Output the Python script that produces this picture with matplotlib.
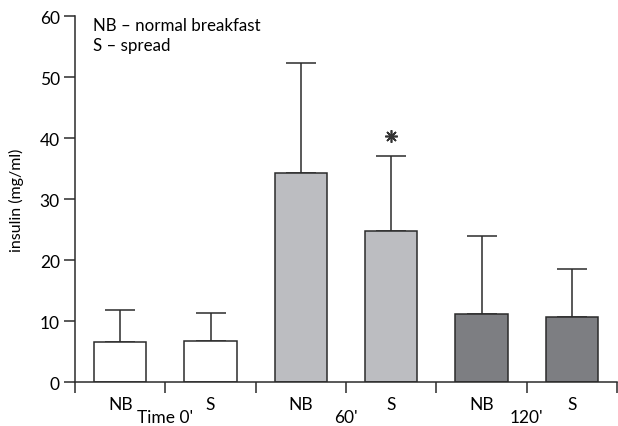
import matplotlib.pyplot as plt
import numpy as np

plt.rcParams['font.family'] = ['Lato', 'DejaVu Sans']

# insulin means and upper SD, per group
bar_labels = ['NB', 'S', 'NB', 'S', 'NB', 'S']
time_labels = ["Time 0'", "60'", "120'"]
insulin_mean = [6.5, 6.7, 34.3, 24.7, 11.1, 10.7]
insulin_sd = [5.35, 4.6, 18.0, 12.3, 12.8, 7.9]
bar_colors = ['white', 'white', '#bcbdc1', '#bcbdc1', '#7d7e82', '#7d7e82']
star_value = 40.4

edge = '#2b2b2b'

fig = plt.figure(figsize=(6.18, 4.27), dpi=100)
ax = fig.add_axes([0.1214, 0.103, 0.877, 0.857])

x = np.arange(len(insulin_mean))
ax.bar(x, insulin_mean, width=0.58, color=bar_colors, edgecolor=edge, linewidth=1.1, zorder=2)
ax.errorbar(x, insulin_mean, yerr=[np.zeros(len(insulin_sd)), insulin_sd], fmt='none',
            ecolor=edge, elinewidth=1.1, capsize=11, capthick=1.1, zorder=1)
# significance mark over S at 60'
ax.plot(x[3], star_value, marker=(8, 2, 0), ms=9, mew=1.2, color='#333333')

ax.set_xlim(-0.5, 5.5)
ax.set_ylim(0, 60)
ax.set_yticks(range(0, 61, 10))
ax.set_xticks(np.arange(-0.5, 6, 1))
ax.set_xticklabels([])
ax.tick_params(axis='y', length=8, width=1.1, color=edge, labelsize=12.5, pad=3)
ax.tick_params(axis='x', length=8, width=1.1, color=edge, direction='out')

for s in ['top', 'right']:
    ax.spines[s].set_visible(False)
for s in ['left', 'bottom']:
    ax.spines[s].set_linewidth(1.1)
    ax.spines[s].set_color(edge)

for xi, lab in zip(x, bar_labels):
    ax.text(xi, -3.6, lab, ha='center', va='center', fontsize=12.5, clip_on=False)
for gi, lab in enumerate(time_labels):
    ax.text(2 * gi + 0.5, -5.8, lab, ha='center', va='center', fontsize=12.5, clip_on=False)

ax.set_ylabel('insulin (mg/ml)', fontsize=11.5, labelpad=11)
ax.text(-0.3, 58.5, 'NB – normal breakfast', fontsize=12.2, va='center')
ax.text(-0.3, 55.3, 'S – spread', fontsize=12.2, va='center')

plt.savefig('out.png', dpi=100)
